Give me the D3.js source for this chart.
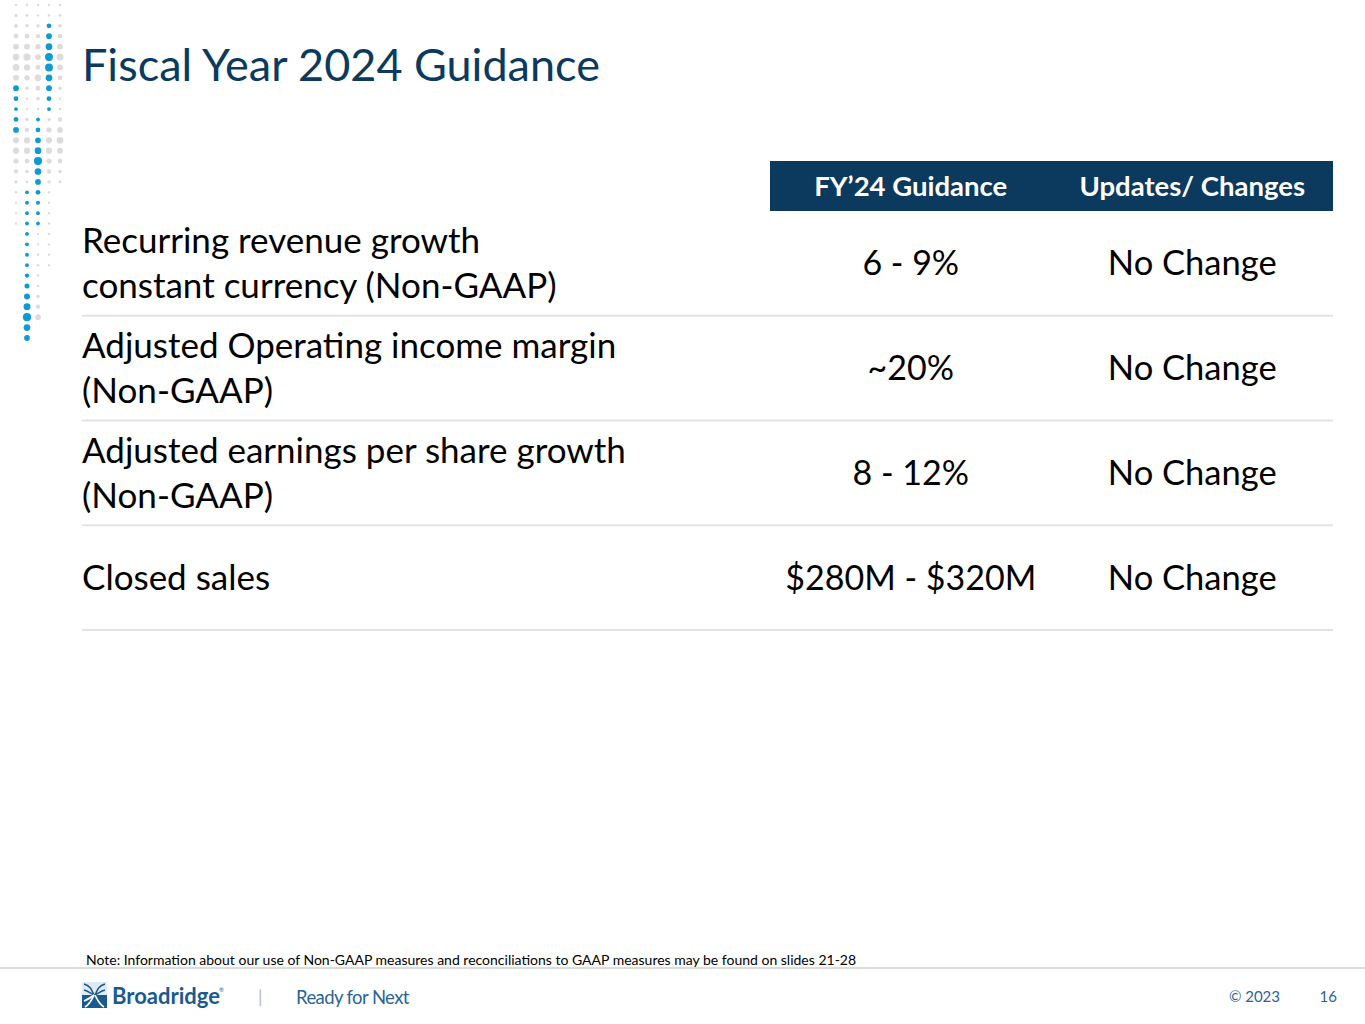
<!DOCTYPE html>
<html>
<head>
  <meta charset="utf-8">
  <title>Fiscal Year 2024 Guidance</title>
  <script src="https://cdnjs.cloudflare.com/ajax/libs/d3/7.8.5/d3.min.js"></script>
  <style>
    body { margin: 0; background: #fff; }
    svg { display: block; }
  </style>
</head>
<body>
<script>
const width = 1365;
const height = 1024;

// table content
const titleText = 'Fiscal Year 2024 Guidance';
const columnHeaders = ['FY\u201924 Guidance', 'Updates/ Changes'];
const rowLabels = [
  ['Recurring revenue growth', 'constant currency (Non-GAAP)'],
  ['Adjusted Operating income margin', '(Non-GAAP)'],
  ['Adjusted earnings per share growth', '(Non-GAAP)'],
  ['Closed sales']
];
const guidance = ['6 - 9%', '~20%', '8 - 12%', '$280M - $320M'];
const updates = ['No Change', 'No Change', 'No Change', 'No Change'];
const noteText = 'Note: Information about our use of Non-GAAP measures and reconciliations to GAAP measures may be found on slides 21-28';
const yearText = '\u00a9 2023';
const pageText = '16';

// decorative dot grid: radius per row, tone per row (G grey, B blue)
const dotSizes = [
  [1,1.3,1.6,2,2.4,2.8,2.8,2.4,2.4,2,1.6,2,2.4,2.6,2.6,2.2,1.8,1.4,1,1,1,1],
  [1,1.2,1.5,2,2.4,3,2.6,2.2,1.4,1,1,1.4,1.8,2.6,2.6,2,1.5,1.2,1.6,1.6,1.6,1.6,1.6,1.6,1.6,1.6,1.8,2.1,2.5,2.9,3.4,2.8,2.4],
  [1,1,1.4,1.8,2.2,2.4,2,2.8,2,1.5,1,1.6,2,2.4,2.8,3.4,2.8,2.4,2,1.7,1.6,1.6,0.9,0.9,1,1,1,1.1,1.4,1.8,2.4],
  [1,1.1,2,2.4,2.8,3.3,3.3,2.8,2.4,2,1.6,1.4,2.2,2.6,2.6,2.2,1.8,1.4,1,1,1,1,1,1,1,1],
  [1,1.2,1.5,2,2.4,3,2.4,2,1.5,1,1,1.8,2.4,2.8,2.4,2,1.5,1.2]
];
const dotTones = [
  'GGGGGGGGBBBBBGGGGGGGGG',
  'GGGGGGGGGGGGGGGGGGBBBBBBBBBBBBBBB',
  'GGGGGGGGGGGBBBBBBBBBBBGGGGGGGGG',
  'GGBBBBBBBBBGGGGGGGGGGGGGGG',
  'GGGGGGGGGGGGGGGGGG'
];

const navy = '#0b3a5e';
const blue = '#0e9ad3';
const grey = '#dcdcdc';
const font = 'Lato, "Open Sans", sans-serif';

const svg = d3.select('body').append('svg')
  .attr('width', width)
  .attr('height', height);

// ---- dot grid
const dotX = d3.scalePoint()
  .domain(d3.range(dotSizes.length))
  .range([16, 60]);
const dotY = d3.scaleLinear()
  .domain([0, 32])
  .range([5, 338]);
const dotR = d3.scaleLinear().domain([0, 1]).range([0, 1.2]);

const dots = svg.append('g');
dotSizes.forEach((col, ci) => {
  dots.selectAll(null)
    .data(col.map((r, ri) => ({r: r, row: ri, tone: dotTones[ci][ri]})))
    .enter().append('circle')
    .attr('cx', dotX(ci))
    .attr('cy', d => dotY(d.row))
    .attr('r', d => dotR(d.r))
    .attr('fill', d => d.tone === 'B' ? blue : grey);
});

// ---- title
svg.append('text')
  .attr('x', 82)
  .attr('y', 81)
  .attr('font-family', font)
  .attr('font-size', 45)
  .attr('fill', navy)
  .text(titleText);

// ---- table
const rowScale = d3.scaleBand()
  .domain(d3.range(rowLabels.length))
  .range([211, 630]);
const colScale = d3.scaleBand()
  .domain(columnHeaders)
  .range([770, 1333]);

svg.append('rect')
  .attr('x', colScale.range()[0])
  .attr('y', 161)
  .attr('width', colScale.range()[1] - colScale.range()[0])
  .attr('height', 50)
  .attr('fill', navy);

svg.selectAll('.hdr')
  .data(columnHeaders)
  .enter().append('text')
  .attr('class', 'hdr')
  .attr('x', d => colScale(d) + colScale.bandwidth() / 2)
  .attr('y', 186)
  .attr('dy', '0.35em')
  .attr('text-anchor', 'middle')
  .attr('font-family', font)
  .attr('font-weight', 'bold')
  .attr('font-size', 27.5)
  .attr('fill', '#fff')
  .text(d => d);

const rows = svg.selectAll('.row')
  .data(rowLabels)
  .enter().append('g')
  .attr('class', 'row')
  .attr('transform', (d, i) => `translate(0,${rowScale(i)})`);

rows.append('line')
  .attr('x1', 82)
  .attr('x2', 1333)
  .attr('y1', rowScale.bandwidth())
  .attr('y2', rowScale.bandwidth())
  .attr('stroke', '#e3e3e3')
  .attr('stroke-width', 2);

const lineH = 45;
rows.each(function(lines) {
  const g = d3.select(this);
  const mid = rowScale.bandwidth() / 2;
  lines.forEach((t, k) => {
    g.append('text')
      .attr('x', 82)
      .attr('y', mid + (k - (lines.length - 1) / 2) * lineH)
      .attr('dy', '0.35em')
      .attr('font-family', font)
      .attr('font-size', 35)
      .attr('fill', '#000')
      .text(t);
  });
});

rows.append('text')
  .attr('x', colScale(columnHeaders[0]) + colScale.bandwidth() / 2)
  .attr('y', rowScale.bandwidth() / 2)
  .attr('dy', '0.35em')
  .attr('text-anchor', 'middle')
  .attr('font-family', font)
  .attr('font-size', 34)
  .text((d, i) => guidance[i]);

rows.append('text')
  .attr('x', colScale(columnHeaders[1]) + colScale.bandwidth() / 2)
  .attr('y', rowScale.bandwidth() / 2)
  .attr('dy', '0.35em')
  .attr('text-anchor', 'middle')
  .attr('font-family', font)
  .attr('font-size', 34.5)
  .text((d, i) => updates[i]);

// ---- footer
svg.append('text')
  .attr('x', 86)
  .attr('y', 965)
  .attr('font-family', font)
  .attr('font-size', 14)
  .attr('fill', '#000')
  .text(noteText);

svg.append('line')
  .attr('x1', 0).attr('x2', width)
  .attr('y1', 968).attr('y2', 968)
  .attr('stroke', '#d0d0d0')
  .attr('stroke-width', 1.5);

// logo mark
const logo = svg.append('g').attr('transform', 'translate(82,982)');
logo.append('rect').attr('width', 25).attr('height', 26).attr('fill', '#dfe9f2');
logo.append('rect').attr('y', 13).attr('width', 25).attr('height', 13).attr('fill', '#1a5a8e');
logo.append('path')
  .attr('d', 'M2,2 C9,4 10,9 12,13 M23,2 C16,4 15,9 13,13 M2,8 C6,9 8,11 12,13 M23,8 C19,9 17,11 13,13')
  .attr('fill', 'none')
  .attr('stroke', '#1a5a8e')
  .attr('stroke-width', 1.6);
logo.append('path')
  .attr('d', 'M12,13 C10,17 8,22 3,25 M13,13 C15,17 17,22 22,25 M12,13 C8,16 5,18 2,19')
  .attr('fill', 'none')
  .attr('stroke', '#fff')
  .attr('stroke-width', 1.6);

svg.append('text')
  .attr('x', 112)
  .attr('y', 1004)
  .attr('font-family', font)
  .attr('font-weight', 'bold')
  .attr('font-size', 22)
  .attr('fill', '#1a5a8e')
  .text('Broadridge');
svg.append('text')
  .attr('x', 219)
  .attr('y', 992)
  .attr('font-family', font)
  .attr('font-size', 6)
  .attr('fill', '#1a5a8e')
  .text('\u00ae');

svg.append('text')
  .attr('x', 258)
  .attr('y', 1003)
  .attr('font-family', font)
  .attr('font-size', 18)
  .attr('fill', '#b8b8b8')
  .text('|');

svg.append('text')
  .attr('x', 296)
  .attr('y', 1004)
  .attr('font-family', font)
  .attr('font-size', 18.5)
  .attr('letter-spacing', -0.6)
  .attr('fill', '#2a6496')
  .text('Ready for Next');

svg.append('text')
  .attr('x', 1280)
  .attr('y', 1002)
  .attr('text-anchor', 'end')
  .attr('font-family', font)
  .attr('font-size', 15)
  .attr('fill', '#2a6496')
  .text(yearText);

svg.append('text')
  .attr('x', 1337)
  .attr('y', 1002)
  .attr('text-anchor', 'end')
  .attr('font-family', font)
  .attr('font-size', 15)
  .attr('fill', '#2a6496')
  .text(pageText);
</script>
</body>
</html>
